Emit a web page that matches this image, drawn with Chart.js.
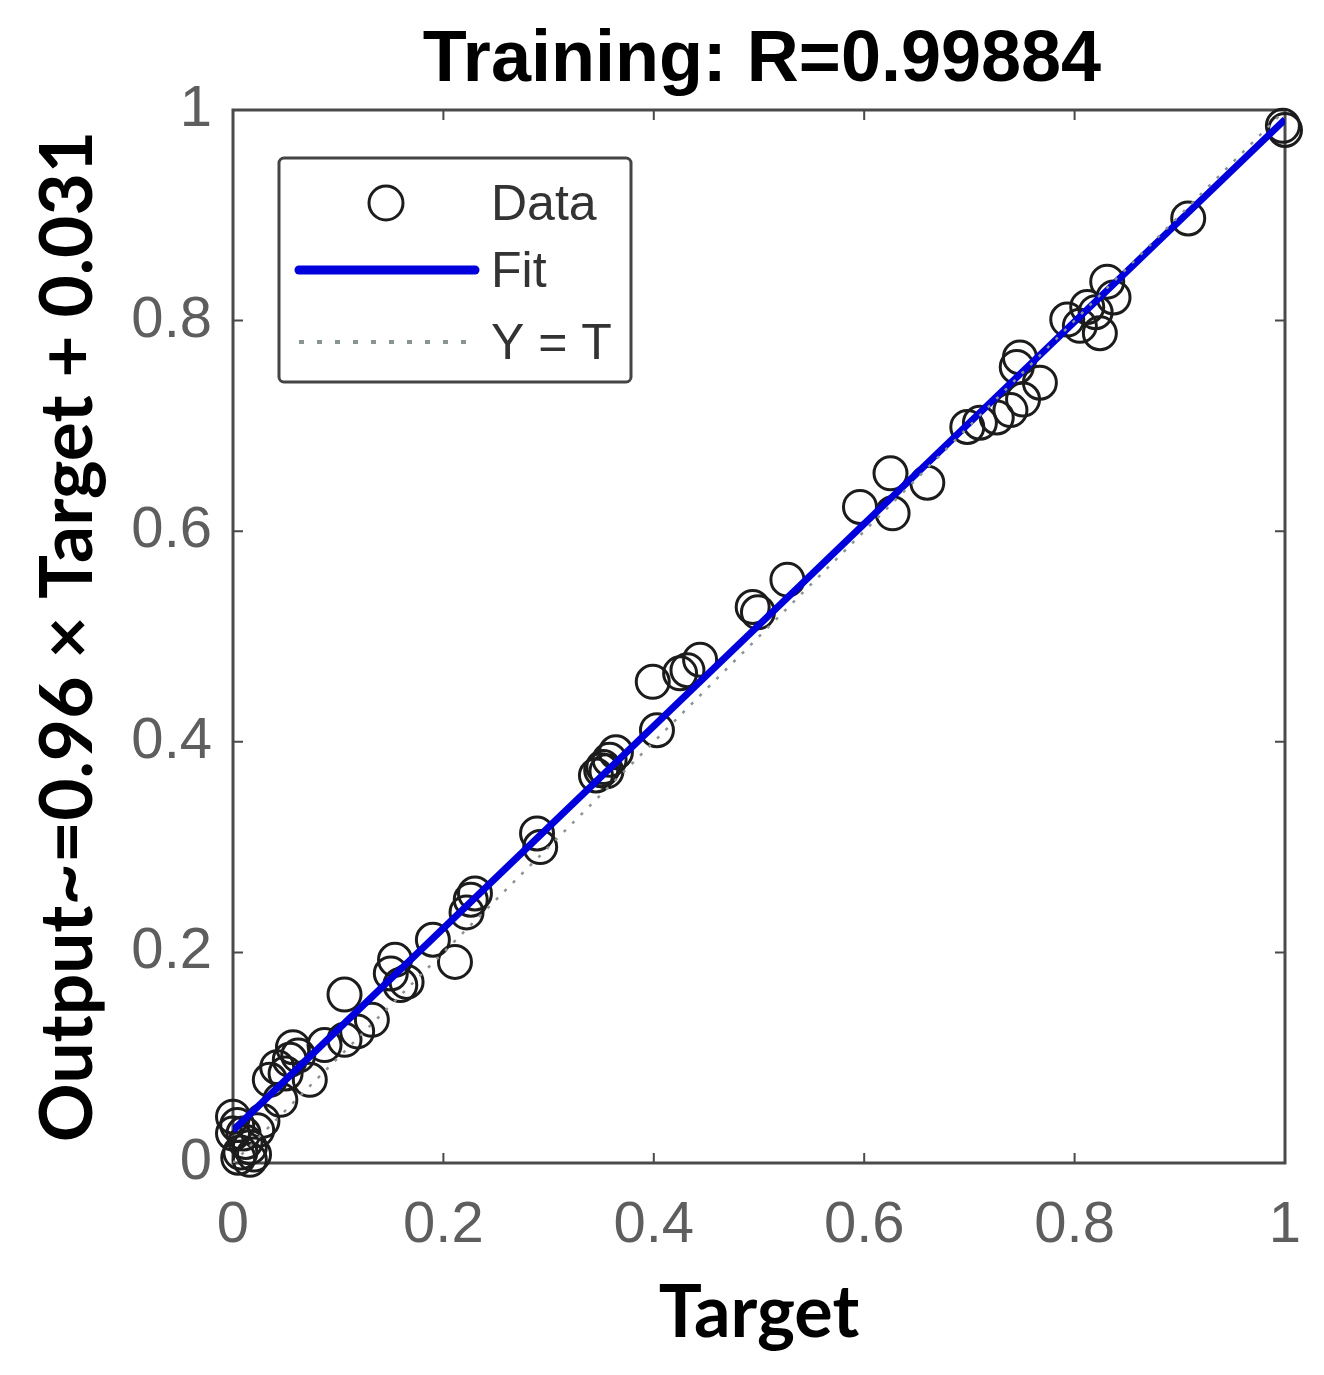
<!DOCTYPE html>
<html>
<head>
<meta charset="utf-8">
<script src="https://cdn.jsdelivr.net/npm/chart.js@4.4.1/dist/chart.umd.min.js"></script>
<style>
  html, body { margin: 0; padding: 0; background: #fff; }
  canvas { display: block; }
</style>
</head>
<body>
<canvas id="chart" width="1324" height="1375"></canvas>
<script>
// chart text
const titleText = 'Training: R=0.99884';
const xLabel = 'Target';
const yLabel = 'Output~=0.96 \u00d7 Target + 0.031';
const legendLabels = ['Data', 'Fit', 'Y = T'];

// data
const targets = [
  0.000, 0.004, 0.010, 0.000, 0.016, 0.007, 0.016, 0.023, 0.012, 0.020, 0.028, 0.005,
  0.035, 0.042, 0.045, 0.054, 0.057, 0.073, 0.050, 0.062,
  0.087, 0.106, 0.106, 0.132, 0.118,
  0.159, 0.154, 0.150, 0.165,
  0.190, 0.211,
  0.222, 0.230, 0.226,
  0.289, 0.292,
  0.345, 0.350, 0.352, 0.358, 0.364, 0.355,
  0.403, 0.399, 0.425, 0.432, 0.444,
  0.494, 0.499, 0.527,
  0.596, 0.625, 0.627, 0.660,
  0.698, 0.710, 0.726, 0.739, 0.751, 0.745, 0.748, 0.767,
  0.793, 0.812, 0.824, 0.831, 0.837, 0.820, 0.805,
  0.908,
  1.000, 0.998
];
const outputs = [
  0.044, 0.036, 0.028, 0.028, 0.015, 0.010, 0.003, 0.031, 0.020, 0.008, 0.040, 0.005,
  0.079, 0.091, 0.060, 0.098, 0.110, 0.079, 0.085, 0.102,
  0.112, 0.117, 0.160, 0.136, 0.125,
  0.169, 0.193, 0.180, 0.172,
  0.212, 0.191,
  0.238, 0.256, 0.250,
  0.313, 0.300,
  0.368, 0.373, 0.376, 0.383, 0.390, 0.372,
  0.411, 0.457, 0.465, 0.468, 0.478,
  0.528, 0.523, 0.554,
  0.623, 0.655, 0.617, 0.646,
  0.699, 0.703, 0.708, 0.715, 0.725, 0.756, 0.765, 0.741,
  0.801, 0.813, 0.788, 0.837, 0.822, 0.808, 0.795,
  0.897,
  0.981, 0.985
];
const fitX = [0, 1];
const fitY = [0.031, 0.991];
const identityX = [0, 1];
const identityY = [0, 1];

const toPoints = (xs, ys) => xs.map((x, i) => ({ x: x, y: ys[i] }));
const fmtTick = v => String(Math.round(v * 10) / 10);

const tickFont = { family: 'Liberation Sans, Arial, sans-serif', size: 58 };
const tickColor = '#5e5e5e';
const frameColor = '#4a4a4a';
const fitColor = '#0000dd';
const dotColor = '#8a9494';

// box, inward ticks, title and legend in MATLAB style
const matlabPlot = {
  id: 'matlabPlot',
  beforeDatasetsDraw(chart) {
    const { ctx, chartArea: a, scales: { x, y } } = chart;
    ctx.save();
    ctx.strokeStyle = frameColor;
    ctx.lineWidth = 2;
    x.ticks.forEach(t => {
      const px = x.getPixelForValue(t.value);
      ctx.beginPath();
      ctx.moveTo(px, a.bottom); ctx.lineTo(px, a.bottom - 10);
      ctx.moveTo(px, a.top); ctx.lineTo(px, a.top + 10);
      ctx.stroke();
    });
    y.ticks.forEach(t => {
      const py = y.getPixelForValue(t.value);
      ctx.beginPath();
      ctx.moveTo(a.left, py); ctx.lineTo(a.left + 10, py);
      ctx.moveTo(a.right, py); ctx.lineTo(a.right - 10, py);
      ctx.stroke();
    });
    ctx.lineWidth = 3;
    ctx.strokeRect(a.left, a.top, a.right - a.left, a.bottom - a.top);
    ctx.restore();
  },
  afterDraw(chart) {
    const { ctx, chartArea: a } = chart;
    ctx.save();
    // title
    ctx.fillStyle = '#000';
    ctx.font = 'bold 72px "Liberation Sans", Arial, sans-serif';
    ctx.textAlign = 'center';
    ctx.textBaseline = 'alphabetic';
    ctx.fillText(titleText, 762, 81);

    // legend
    const bx = a.left + 46, by = a.top + 48, bw = 352, bh = 224;
    ctx.fillStyle = '#fff';
    ctx.strokeStyle = '#444';
    ctx.lineWidth = 3;
    ctx.beginPath();
    ctx.roundRect(bx, by, bw, bh, 5);
    ctx.fill();
    ctx.stroke();

    const ds = chart.data.datasets;
    const rows = [by + 45, by + 112, by + 184];
    // Data marker
    ctx.strokeStyle = ds[0].borderColor;
    ctx.lineWidth = 3;
    ctx.beginPath();
    ctx.arc(bx + 107, rows[0], 17, 0, Math.PI * 2);
    ctx.stroke();
    // Fit line
    ctx.strokeStyle = ds[1].borderColor;
    ctx.lineWidth = 9;
    ctx.lineCap = 'round';
    ctx.beginPath();
    ctx.moveTo(bx + 20, rows[1]); ctx.lineTo(bx + 196, rows[1]);
    ctx.stroke();
    // Y = T line
    ctx.strokeStyle = ds[2].borderColor;
    ctx.lineWidth = 4;
    ctx.lineCap = 'butt';
    ctx.setLineDash([5, 13]);
    ctx.beginPath();
    ctx.moveTo(bx + 20, rows[2]); ctx.lineTo(bx + 192, rows[2]);
    ctx.stroke();
    ctx.setLineDash([]);

    ctx.fillStyle = '#333';
    ctx.font = '50px "Liberation Sans", Arial, sans-serif';
    ctx.textAlign = 'left';
    ctx.textBaseline = 'middle';
    ds.forEach((d, i) => ctx.fillText(d.label, bx + 212, rows[i] + 3));
    ctx.restore();
  }
};

new Chart(document.getElementById('chart'), {
  type: 'scatter',
  data: {
    datasets: [
      {
        label: legendLabels[0],
        data: toPoints(targets, outputs),
        showLine: false,
        clip: false,
        pointStyle: 'circle',
        pointRadius: 16.5,
        pointBorderWidth: 3,
        borderColor: '#1c1c1c',
        backgroundColor: 'rgba(0,0,0,0)',
        order: 2
      },
      {
        label: legendLabels[1],
        data: toPoints(fitX, fitY),
        showLine: true,
        pointRadius: 0,
        borderColor: fitColor,
        borderWidth: 7,
        order: 1
      },
      {
        label: legendLabels[2],
        data: toPoints(identityX, identityY),
        showLine: true,
        pointRadius: 0,
        borderColor: dotColor,
        borderWidth: 2.5,
        borderDash: [3, 9],
        order: 0
      }
    ]
  },
  options: {
    responsive: false,
    animation: false,
    layout: { padding: { top: 110, right: 39, left: 0, bottom: 0 } },
    plugins: {
      legend: { display: false },
      tooltip: { enabled: false },
      title: { display: false }
    },
    scales: {
      x: {
        type: 'linear',
        min: 0,
        max: 1,
        ticks: { stepSize: 0.2, font: tickFont, color: tickColor, padding: 28, maxRotation: 0, callback: fmtTick },
        grid: { display: false, drawTicks: false },
        border: { display: false },
        title: {
          display: true,
          text: xLabel,
          color: '#000',
          font: { family: 'Lato, sans-serif', size: 72, weight: 'bold', lineHeight: 1 },
          padding: { top: 0, bottom: 25 }
        },
        afterFit(scale) {
          scale.height = 212;
          scale.paddingLeft = 0;
          scale.paddingRight = 0;
        }
      },
      y: {
        type: 'linear',
        min: 0,
        max: 1,
        ticks: { stepSize: 0.2, font: tickFont, color: tickColor, padding: 21, callback: fmtTick },
        grid: { display: false, drawTicks: false },
        border: { display: false },
        title: {
          display: true,
          text: yLabel,
          color: '#000',
          font: { family: 'Lato, sans-serif', size: 73, weight: 'bold', lineHeight: 1 },
          padding: { top: 32, bottom: 0 }
        },
        afterFit(scale) {
          scale.width = 233;
          scale.paddingTop = 0;
          scale.paddingBottom = 0;
        }
      }
    }
  },
  plugins: [matlabPlot]
});
</script>
</body>
</html>
